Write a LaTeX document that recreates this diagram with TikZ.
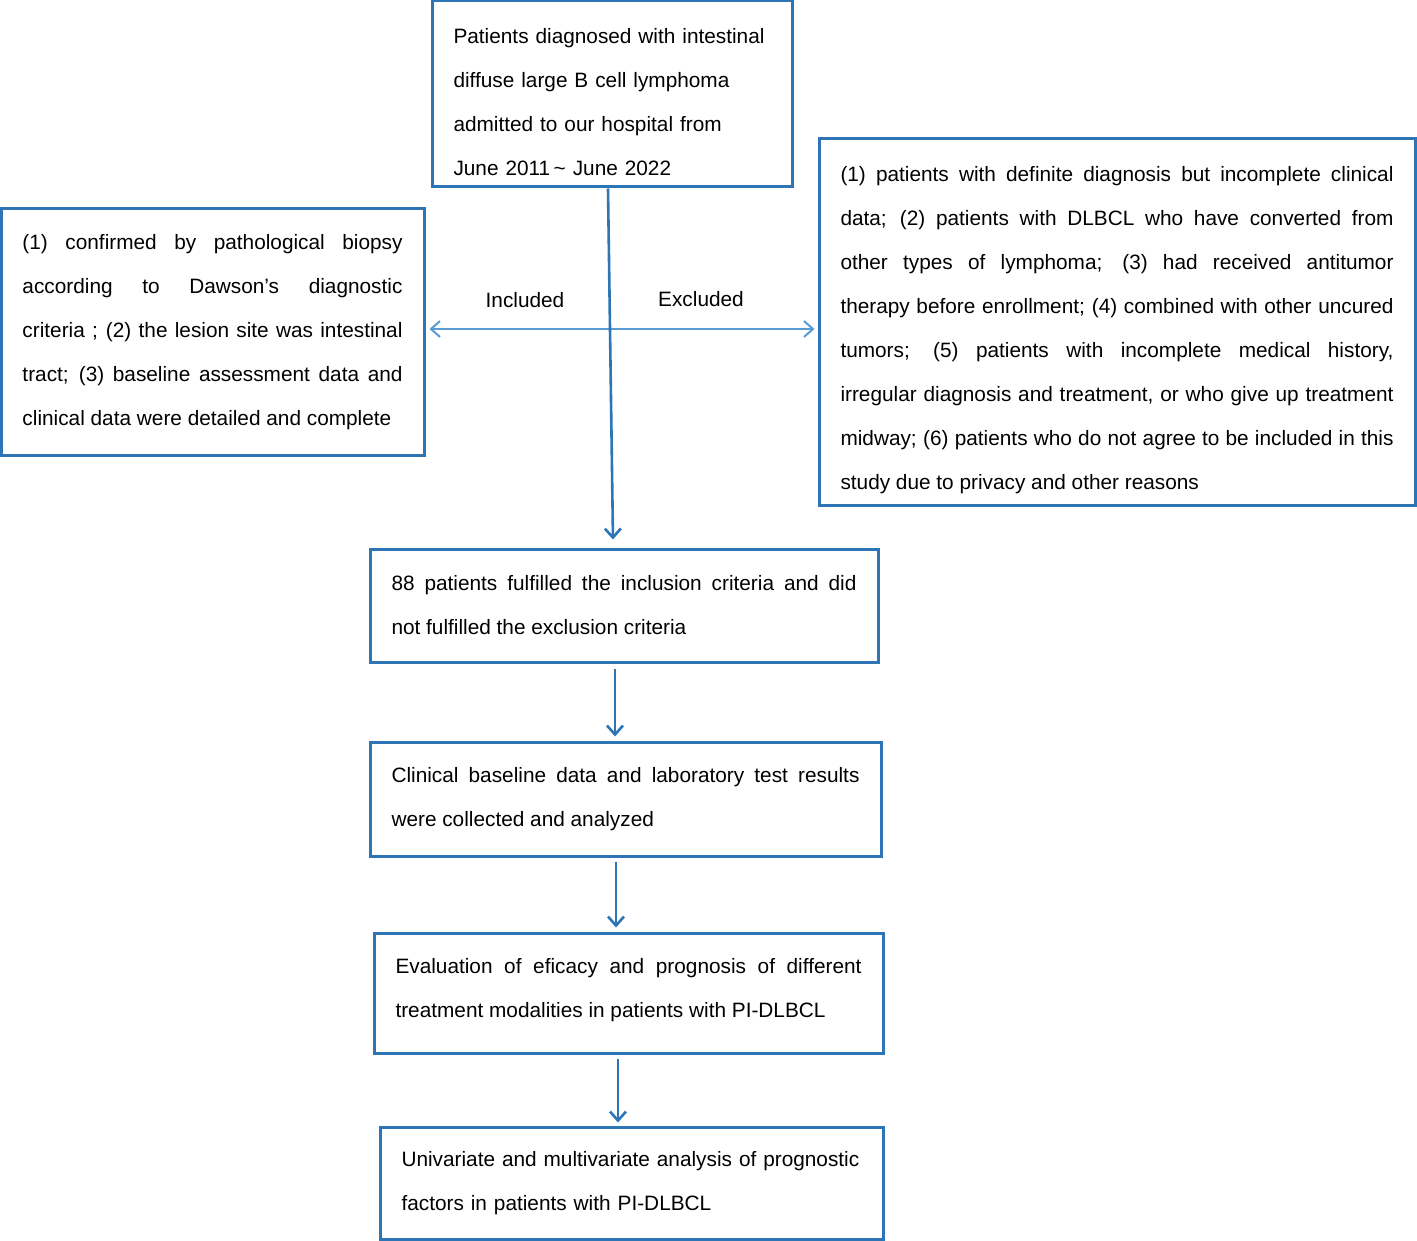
\documentclass[tikz,border=0pt]{standalone}
\usepackage{fontspec}
\setmainfont{Liberation Sans}
\usetikzlibrary{arrows.meta}
\definecolor{boxblue}{HTML}{2E75B6}
\definecolor{lineblue}{HTML}{5B9BD5}
\newcommand{\toppad}{\rule{0pt}{32pt}}
\newcommand{\botpad}{\rule[-10.5pt]{0pt}{0pt}}
\tikzset{
  box/.style={draw=boxblue, line width=3pt, inner xsep=21.5pt, inner ysep=0pt,
    font=\fontsize{20.8}{44}\selectfont},
  just/.style={align=justify},
  rag/.style={align=left},
  varrow/.style={draw=boxblue, line width=2.6pt, -{Straight Barb[length=9pt,width=16pt,line width=2.6pt]}},
  harrow/.style={draw=lineblue, line width=2pt, -{Straight Barb[length=9pt,width=16pt,line width=2pt]}},
  lbl/.style={font=\fontsize{20.8}{25}\selectfont, inner sep=0pt}
}
\begin{document}
\begin{tikzpicture}[x=1pt,y=-1pt]
\useasboundingbox[fill=white] (0,0) rectangle (1417,1241);
\node[box,rag,text width=317pt,minimum width=360pt,minimum height=186pt] (top) at (612,94)
 {\toppad\mbox{Patients diagnosed with intestinal}\\\mbox{diffuse large B cell lymphoma}\\\mbox{admitted to our hospital from}\\\mbox{June 2011\,\textasciitilde\ June 2022}};
\node[box,just,text width=380pt,minimum width=423pt,minimum height=246pt] (left) at (212.5,332)
 {(1) confirmed by pathological biopsy\linebreak according to Dawson’s diagnostic\linebreak criteria ; (2) the lesion site was intestinal\linebreak tract; (3) baseline assessment data and\linebreak clinical data were detailed and complete};
\node[box,just,text width=553pt,minimum width=596pt,minimum height=366pt] (right) at (1117,322)
 {\toppad(1) patients with definite diagnosis but incomplete clinical\linebreak data; (2) patients with DLBCL who have converted from\linebreak other types of lymphoma; (3) had received antitumor\linebreak therapy before enrollment; (4) combined with other uncured\linebreak tumors; (5) patients with incomplete medical history,\linebreak irregular diagnosis and treatment, or who give up treatment\linebreak midway; (6) patients who do not agree to be included in this\linebreak study due to privacy and other reasons};
\node[box,just,text width=465pt,minimum width=508pt,minimum height=113pt] (b88) at (624,605.5)
 {88 patients fulfilled the inclusion criteria and did\linebreak not fulfilled the exclusion criteria};
\node[box,just,text width=468pt,minimum width=511pt,minimum height=114pt] (clin) at (625.5,799)
 {Clinical baseline data and laboratory test results\linebreak were collected and analyzed};
\node[box,just,text width=466pt,minimum width=509pt,minimum height=120pt] (eval) at (628.5,993)
 {Evaluation of eficacy and prognosis of different\linebreak treatment modalities in patients with PI-DLBCL\botpad};
\node[box,rag,text width=460pt,minimum width=503pt,minimum height=112pt] (uni) at (631.5,1183)
 {\mbox{Univariate and multivariate analysis of prognostic}\\\mbox{factors in patients with PI-DLBCL}};
% connectors
\coordinate (j) at (610,329);
\draw[harrow] (j) -- ([xshift=4pt]j -| left.east);
\draw[harrow] (j) -- ([xshift=-3pt]j -| right.west);
\draw[varrow] ([xshift=-4pt]top.south) -- ([xshift=-11pt,yshift=8pt]b88.north);
\node[lbl] (inc) at (525,300) {Included};
\node[lbl] (exc) at (701,299) {Excluded};
\draw[varrow] ([xshift=-9pt,yshift=-5pt]b88.south) -- ([xshift=-10.5pt,yshift=4pt]clin.north);
\draw[varrow] ([xshift=-9.5pt,yshift=-4pt]clin.south) -- ([xshift=-12.5pt,yshift=4pt]eval.north);
\draw[varrow] ([xshift=-10.5pt,yshift=-4pt]eval.south) -- ([xshift=-13.5pt,yshift=3pt]uni.north);
\end{tikzpicture}
\end{document}
